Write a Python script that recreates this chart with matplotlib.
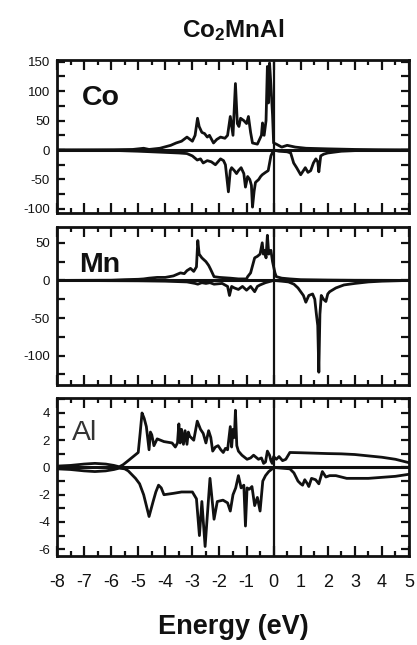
import matplotlib
matplotlib.use("Agg")
import matplotlib.pyplot as plt
from matplotlib.ticker import MultipleLocator

plt.rcParams['font.family'] = ['Liberation Sans', 'DejaVu Sans']
plt.rcParams['axes.unicode_minus'] = False
plt.rcParams['mathtext.fontset'] = 'custom'
plt.rcParams['mathtext.rm'] = 'Liberation Sans'
plt.rcParams['mathtext.bf'] = 'Liberation Sans:bold'

# ---------------- data ----------------
co_up_E = [-8, -6, -5.2, -4.8, -4.6, -4.2, -3.8, -3.6, -3.4, -3.2, -3.0, -2.9, -2.81, -2.75, -2.65, -2.55,
           -2.45, -2.37, -2.22, -2.1, -1.96, -1.8, -1.7, -1.6, -1.5, -1.41, -1.34, -1.28, -1.22, -1.1,
           -1.0, -0.93, -0.85, -0.78, -0.6, -0.45, -0.41, -0.35, -0.28, -0.23, -0.19, -0.15, -0.1,
           -0.04, 0.0, 0.1, 0.3, 0.5, 0.8, 1.2, 2.0, 3.0, 4.0, 5.0]
co_up = [0, 0.5, 1, 3, 1, 3, 8, 12, 15, 22, 15, 25, 54, 40, 30, 28,
         22, 25, 12, 18, 22, 20, 25, 57, 25, 113, 45, 40, 54, 50,
         45, 57, 30, 12, 10, 25, 46, 25, 50, 142, 80, 148, 110,
         60, 12, 10, 5, 8, 5, 3, 2, 1, 0.5, 0]

co_dn_E = [-8, -6, -5, -4.5, -4.0, -3.5, -3.2, -3.0, -2.82, -2.7, -2.6, -2.45, -2.3, -2.15, -1.96,
           -1.85, -1.78, -1.67, -1.6, -1.55, -1.45, -1.37, -1.3, -1.2, -1.1, -1.04, -0.96, -0.88,
           -0.82, -0.78, -0.72, -0.67, -0.55, -0.48, -0.42, -0.36, -0.3, -0.2, -0.1, 0.0, 0.2, 0.5,
           0.63, 0.74, 0.85, 1.0, 1.1, 1.17, 1.27, 1.37, 1.47, 1.56, 1.63, 1.67, 1.74, 1.85, 2.0,
           2.5, 3.0, 4.0, 5.0]
co_dn = [0, -0.5, -2, -3, -4, -5, -6, -10, -17, -15, -22, -18, -20, -25, -15,
         -18, -25, -71, -35, -30, -35, -40, -35, -30, -40, -63, -45, -50,
         -60, -97, -70, -55, -50, -45, -42, -40, -38, -35, -10, 0, -2, -3,
         -5, -22, -30, -42, -35, -30, -38, -35, -22, -15, -20, -37, -10, -7, -5,
         -2, -1, -0.5, 0]

mn_up_E = [-8, -6, -5.5, -5.0, -4.8, -4.6, -4.3, -4.0, -3.7, -3.44, -3.3, -3.2, -3.07, -2.95, -2.85,
           -2.8, -2.75, -2.65, -2.5, -2.4, -2.33, -2.2, -2.0, -1.6, -1.3, -1.0, -0.96, -0.85, -0.7,
           -0.6, -0.5, -0.42, -0.38, -0.33, -0.28, -0.23, -0.18, -0.1, -0.04, 0.05, 0.1, 0.3, 0.6,
           1.0, 2.0, 3.0, 5.0]
mn_up = [0, 0.3, 1, 1.5, 2, 3, 4, 4, 6, 10, 9, 13, 16, 12, 18,
         53, 35, 30, 25, 20, 15, 5, 4, 3, 2, 2, 5, 10, 30,
         32, 35, 50, 35, 40, 30, 60, 35, 40, 25, 10, 5, 3, 2,
         1, 0.5, 0.2, 0]

mn_dn_E = [-8, -5, -4, -3.2, -2.9, -2.8, -2.65, -2.5, -2.35, -2.2, -1.9, -1.7, -1.63, -1.55, -1.45,
           -1.3, -1.15, -1.0, -0.85, -0.7, -0.6, -0.5, -0.3, 0.0, 0.3, 0.55, 0.75, 0.9, 1.0,
           1.1, 1.19, 1.3, 1.44, 1.52, 1.58, 1.63, 1.67, 1.71, 1.76, 1.84, 1.93, 2.0, 2.07, 2.3,
           2.6, 3.0, 3.5, 4.0, 5.0]
mn_dn = [0, -0.5, -1, -2, -4, -5, -3, -4, -3, -5, -4, -8, -20, -8, -10,
         -12, -8, -13, -8, -15, -8, -6, -3, 0, -1, -2, -5, -10, -15,
         -20, -29, -20, -18, -25, -45, -60, -122, -45, -20, -25, -28, -18, -15, -10,
         -6, -4, -2, -1, 0]

al_up_E = [-8, -7.5, -7.0, -6.6, -6.2, -5.9, -5.7, -5.56, -5.37, -5.0, -4.93, -4.86, -4.78, -4.7,
           -4.6, -4.55, -4.5, -4.42, -4.3, -4.05, -3.75, -3.63, -3.55, -3.5, -3.45, -3.4, -3.33,
           -3.27, -3.2, -3.15, -3.1, -2.95, -2.82, -2.7, -2.6, -2.5, -2.4, -2.32, -2.25, -2.15,
           -2.05, -1.95, -1.86, -1.78, -1.7, -1.6, -1.55, -1.5, -1.45, -1.41, -1.36, -1.3, -1.17,
           -0.98, -0.85, -0.74, -0.56, -0.45, -0.37, -0.3, -0.23, -0.15, -0.1, -0.05, 0.0, 0.1,
           0.2, 0.33, 0.45, 0.6, 1.0, 1.5, 2.0, 2.5, 3.0, 3.5, 4.0, 4.5, 5.0]
al_up = [0.1, 0.15, 0.25, 0.3, 0.25, 0.15, 0.05, 0.2, 0.5, 1.1, 2.5, 4.0, 3.6, 3.0,
         1.3, 2.6, 2.4, 1.6, 2.1, 1.9, 1.8, 1.5, 1.8, 3.2, 1.8, 2.8, 1.7,
         2.7, 1.7, 2.6, 2.3, 2.0, 3.4, 2.8, 2.5, 1.8, 2.7, 2.2, 1.2, 1.5,
         1.6, 1.3, 1.1, 1.4, 1.3, 3.0, 1.5, 2.8, 2.2, 4.2, 1.6, 1.2, 0.9,
         0.6, 0.7, 0.9, 0.6, 0.7, 0.3, 0.4, 1.2, 0.9, 0.5, 0.3, 0.8, 0.6,
         0.8, 0.5, 0.6, 1.1, 1.08, 1.05, 1.02, 1.0, 0.95, 0.85, 0.75, 0.6, 0.35]

al_dn_E = [-8, -7.5, -7.0, -6.6, -6.2, -5.9, -5.7, -5.5, -5.37, -5.1, -4.95, -4.8, -4.7, -4.6,
           -4.45, -4.35, -4.25, -4.15, -4.05, -3.7, -3.4, -3.0, -2.85, -2.74, -2.65, -2.53, -2.35,
           -2.2, -2.08, -1.87, -1.7, -1.6, -1.5, -1.4, -1.3, -1.2, -1.1, -1.04, -0.98, -0.9, -0.8,
           -0.7, -0.6, -0.5, -0.4, -0.3, -0.18, -0.05, 0.0, 0.3, 0.6, 0.75, 0.9, 1.0, 1.07, 1.15,
           1.25, 1.3, 1.4, 1.55, 1.67, 1.8, 1.93, 2.07, 2.3, 2.7, 3.5, 4.5, 5.0]
al_dn = [-0.1, -0.15, -0.25, -0.3, -0.25, -0.15, -0.05, -0.1, -0.25, -0.8, -1.2, -2.0, -2.8, -3.6,
         -2.5, -1.8, -1.3, -1.5, -2.0, -1.9, -1.8, -1.8, -2.3, -5.0, -2.5, -5.8, -0.8,
         -3.8, -2.5, -2.4, -2.6, -3.2, -2.0, -1.5, -0.6, -1.5, -1.3, -4.3, -1.5, -1.6, -1.4,
         -2.8, -2.2, -3.2, -1.0, -0.6, -0.3, -0.1, 0.0, -0.05, -0.1, -0.4, -1.0, -1.2, -1.3, -0.9,
         -1.2, -1.4, -0.8, -0.9, -1.2, -0.3, -0.7, -0.6, -0.6, -0.8, -0.8, -0.65, -0.5]

xticks = list(range(-8, 6))
co_yticks = [-100, -50, 0, 50, 100, 150]
mn_yticks = [-100, -50, 0, 50]
al_yticks = [-6, -4, -2, 0, 2, 4]

# ---------------- figure ----------------
fig = plt.figure(figsize=(4.17, 6.45), dpi=100)
L, W = 57 / 417, 352 / 417
INK = '#111111'
panels = [
    (60, 213, co_up_E, co_up, co_dn_E, co_dn, (-107, 153), co_yticks, 25, 'Co', 0.072, 0.75, 'bold'),
    (227, 385, mn_up_E, mn_up, mn_dn_E, mn_dn, (-139, 71), mn_yticks, 25, 'Mn', 0.063, 0.76, 'bold'),
    (398, 556, al_up_E, al_up, al_dn_E, al_dn, (-6.5, 5.1), al_yticks, 1, 'Al', 0.042, 0.78, 'normal'),
]
lw = 2.0
for i, (t, b, ue, uv, de, dv, ylim, yt, mnr, lab, lx, ly, wt) in enumerate(panels):
    ax = fig.add_axes([L, 1 - b / 645, W, (b - t) / 645])
    ax.plot(ue, uv, color=INK, lw=lw, solid_joinstyle='round')
    ax.plot(de, dv, color=INK, lw=lw, solid_joinstyle='round')
    ax.axhline(0, color=INK, lw=2.2)
    ax.axvline(0, color=INK, lw=1.6)
    ax.set_xlim(-8, 5)
    ax.set_ylim(*ylim)
    ax.set_xticks(xticks)
    ax.xaxis.set_minor_locator(MultipleLocator(0.5))
    ax.set_yticks(yt)
    ax.yaxis.set_minor_locator(MultipleLocator(mnr))
    ax.tick_params(axis='both', which='both', direction='in', top=True, right=True,
                   width=1.6, color=INK, labelcolor=INK)
    ax.tick_params(axis='x', which='major', length=7)
    ax.tick_params(axis='x', which='minor', length=3.8)
    ax.tick_params(axis='y', which='major', length=5.5, labelsize=9.5, pad=5)
    ax.tick_params(axis='y', which='minor', length=5.5)
    for s in ax.spines.values():
        s.set_linewidth(2.0)
        s.set_color(INK)
    if i < 2:
        ax.tick_params(axis='x', labelbottom=False)
    else:
        ax.tick_params(axis='x', which='major', labelsize=13, pad=13)
    ax.text(lx, ly, lab, transform=ax.transAxes, fontsize=20.5, fontweight=wt,
            color=INK if wt == 'bold' else '#333333', va='center', ha='left')

fig.text((57 + 409) / 2 / 417, 1 - 30 / 645, r'$\mathbf{Co_2MnAl}$', fontsize=17.5,
         ha='center', va='center', color=INK)
fig.text((57 + 409) / 2 / 417, 1 - 627 / 645, 'Energy (eV)', fontsize=19.5, fontweight='bold',
         ha='center', va='center', color=INK)

fig.savefig('out.png', dpi=100)
